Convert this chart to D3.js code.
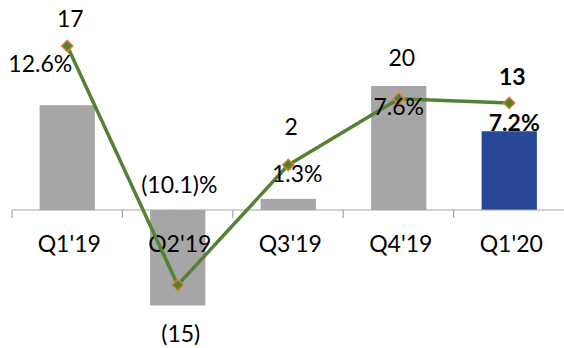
<!DOCTYPE html>
<html><head><meta charset="utf-8">
<script src="https://cdn.jsdelivr.net/npm/d3@7"></script>
<style>html,body{margin:0;padding:0;background:#fff;}svg{display:block;}</style>
</head><body>
<svg id="chart" width="564" height="348"></svg>
<script>
const categories = ["Q1'19", "Q2'19", "Q3'19", "Q4'19", "Q1'20"];
const barValues = [16.9, -15.4, 1.8, 20.0, 12.7];
const barLabels = ["17", "(15)", "2", "20", "13"];
const pctValues = [12.6, -10.1, 1.3, 7.6, 7.2];
const pctLabels = ["12.6%", "(10.1)%", "1.3%", "7.6%", "7.2%"];

const svg = d3.select("#chart");
const font = "Lato, 'Open Sans', sans-serif";
const fs = 23;

const x = d3.scaleBand().domain(categories).range([12, 564.5]).paddingInner(0.5).paddingOuter(0.25);
const xc = d => x(d) + x.bandwidth() / 2;
const y = d3.scaleLinear().domain([-20, 30]).range([334, 24]);
const y2 = d3.scaleLinear().domain([-10, 15]).range([284, 20.75]);

// bars
svg.append("g").selectAll("rect").data(categories).join("rect")
  .attr("x", d => x(d))
  .attr("width", x.bandwidth())
  .attr("y", (d, i) => Math.min(y(barValues[i]), y(0)))
  .attr("height", (d, i) => Math.abs(y(barValues[i]) - y(0)))
  .attr("fill", (d, i) => i === categories.length - 1 ? "#284796" : "#a6a6a6");

// axis
const axis = svg.append("g").attr("transform", `translate(0,${y(0)})`);
axis.append("line").attr("x1", 12).attr("x2", 564).attr("y1", 0).attr("y2", 0)
  .attr("stroke", "#a6a6a6").attr("stroke-width", 1.2);
const tickXs = d3.range(categories.length).map(i => 12 + i * (552 / 5));
axis.selectAll("line.t").data(tickXs).join("line").attr("class", "t")
  .attr("x1", d => d).attr("x2", d => d).attr("y1", 0).attr("y2", 8)
  .attr("stroke", "#a6a6a6").attr("stroke-width", 1.2);
axis.selectAll("text").data(categories).join("text")
  .attr("x", d => xc(d) + 2).attr("y", 42)
  .attr("text-anchor", "middle").attr("font-family", font).attr("font-size", fs)
  .attr("fill", "#000").text(d => d);

// line
const line = d3.line().x((d, i) => xc(categories[i])).y(d => y2(d));
svg.append("path").datum(pctValues).attr("d", line)
  .attr("fill", "none").attr("stroke", "#548235").attr("stroke-width", 3.5)
  .attr("stroke-linejoin", "round");
svg.append("g").selectAll("path").data(pctValues).join("path")
  .attr("d", d3.symbol(d3.symbolDiamond2, 85)())
  .attr("transform", (d, i) => `translate(${xc(categories[i])},${y2(d)})`)
  .attr("fill", "#548235").attr("stroke", "#ed7d31").attr("stroke-width", 1.3);

// labels
const gl = svg.append("g").attr("font-family", font).attr("font-size", fs).attr("text-anchor", "middle");
const barOffsets = [[3, -19], [3, 36.5], [3, -30], [3, -33], [3, -18]];
gl.selectAll("text.b").data(barValues).join("text").attr("class", "b")
  .attr("x", (d, i) => xc(categories[i]) + barOffsets[i][0])
  .attr("y", (d, i) => (i === 1 ? y(d) : y2(pctValues[i])) + barOffsets[i][1])
  .attr("font-weight", (d, i) => i === 4 ? "bold" : "normal")
  .text((d, i) => barLabels[i]);
const pctOffsets = [[-27, 26], [1.5, -92], [9, 17], [0, 16], [5, 28]];
gl.selectAll("text.p").data(pctValues).join("text").attr("class", "p")
  .attr("x", (d, i) => xc(categories[i]) + pctOffsets[i][0])
  .attr("y", (d, i) => y2(d) + pctOffsets[i][1])
  .attr("font-weight", (d, i) => i === 4 ? "bold" : "normal")
  .text((d, i) => pctLabels[i]);
</script>
</body></html>
